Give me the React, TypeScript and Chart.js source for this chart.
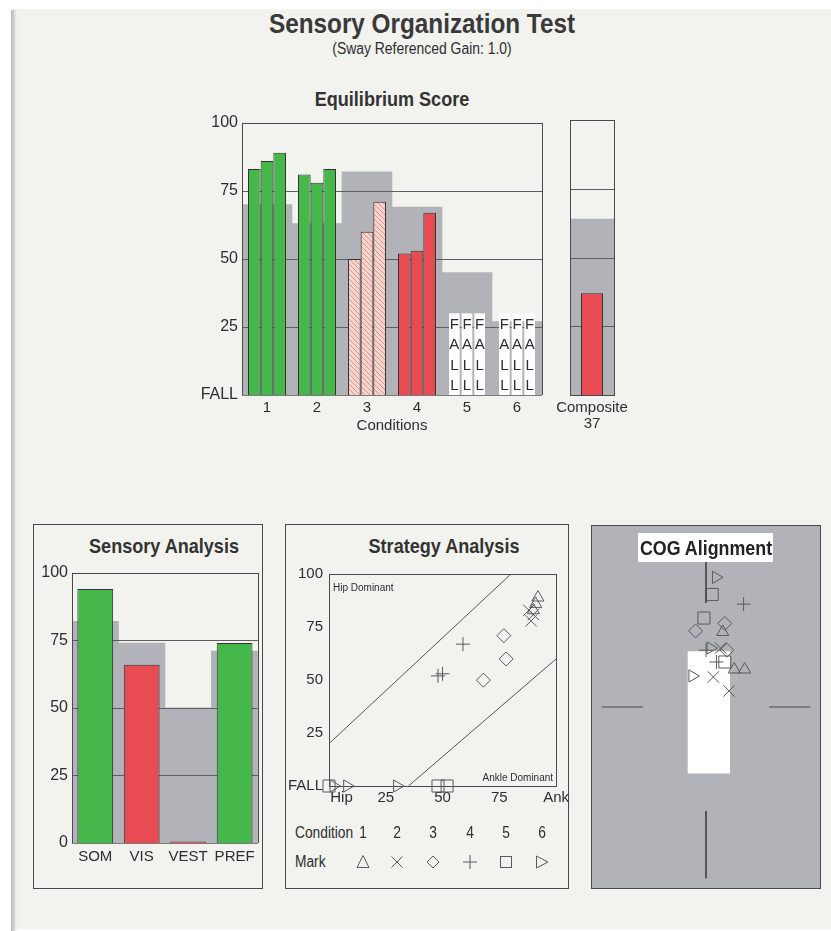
import React, { useEffect, useRef } from 'react';
import { Chart, registerables } from 'chart.js';

Chart.register(...registerables);

// ---------- data ----------
const FALL = null;
const conditions = ['1', '2', '3', '4', '5', '6'];
const trial1 = [83, 81, 50, 52, FALL, FALL];
const trial2 = [86, 78, 60, 53, FALL, FALL];
const trial3 = [89, 83, 71, 67, FALL, FALL];
const equilibriumNorms = [70, 63, 82, 69, 45, 27];
const fallLetters = ['F', 'A', 'L', 'L'];
const fallBoxTop = 30;
const compositeScore = 37;
const compositeNorm = 64;
const scoreGrid = [25, 50, 75];

const sensoryCategories = ['SOM', 'VIS', 'VEST', 'PREF'];
const sensoryScores = [94, 66, 0.6, 74];
const sensoryNorms = [82, 74, 50, 71];

// strategy score (x) for trial 1..3 of each condition; y is the equilibrium score
const strategyCond1 = [90, 91, 92];
const strategyCond2 = [90, 89, 88];
const strategyCond3 = [68, 78, 77];
const strategyCond4 = [48, 50, 59];
const strategyCond5 = [0, 48, 52];
const strategyCond6 = [2, 8, 30];
const hipLineX = [0, 80];
const hipLineY = [20, 100];
const ankleLineX = [35, 100];
const ankleLineY = [0, 60];

// COG alignment (x, y) for trial 1..3 of each condition
const cogCond1X = [1.6, 2.7, 3.7];
const cogCond1Y = [7.0, 3.5, 3.5];
const cogCond2X = [1.4, 0.7, 2.2];
const cogCond2Y = [5.5, 2.8, 1.5];
const cogCond3X = [-1.0, 1.8, 2.0];
const cogCond3Y = [7.1, 7.8, 5.3];
const cogCond4X = [3.6, 0, 1.0];
const cogCond4Y = [9.6, 5.3, 4.2];
const cogCond5X = [0.6, -0.2, 1.8];
const cogCond5Y = [10.5, 8.3, 4.2];
const cogCond6X = [0.96, 0.44, -1.3];
const cogCond6Y = [12.1, 5.5, 2.9];
const cogLimitsX = [-1.75, 2.3];
const cogLimitsY = [-6.2, 5.2];
const cogCrossTop = [16, 9.7];
const cogCrossBottom = [-9.7, -16];
const cogCrossLeft = [-10, -6.05];
const cogCrossRight = [6.05, 10];

// ---------- styles ----------
const FONT = '"Liberation Sans", Arial, sans-serif';
const TEXT = '#2e2e2e';
const GREEN = '#45b74b';
const RED = '#e94b52';
const GRAY = '#b2b2b9';
const PAPER = '#f2f2ee';
const LINE = '#4a4a4a';
const MARK = '#5a5a5a';
const TICK = 15;

const markStyles = [
  { pointStyle: 'triangle', rotation: 0, radius: 7 },
  { pointStyle: 'crossRot', rotation: 0, radius: 8 },
  { pointStyle: 'rectRot', rotation: 0, radius: 7 },
  { pointStyle: 'cross', rotation: 0, radius: 7 },
  { pointStyle: 'rect', rotation: 0, radius: 8.5 },
  { pointStyle: 'triangle', rotation: 90, radius: 7 },
];

function makeHatch() {
  const c = document.createElement('canvas');
  c.width = 5;
  c.height = 5;
  const g = c.getContext('2d')!;
  g.fillStyle = '#f8d5cc';
  g.fillRect(0, 0, 5, 5);
  g.strokeStyle = '#e4928a';
  g.lineWidth = 1;
  g.beginPath();
  g.moveTo(-1, -1);
  g.lineTo(6, 6);
  g.moveTo(-1, 4);
  g.lineTo(1, 6);
  g.moveTo(4, -1);
  g.lineTo(6, 1);
  g.stroke();
  return g.createPattern(c, 'repeat');
}

function hLine(ctx: CanvasRenderingContext2D, x1: number, x2: number, y: number) {
  const yy = Math.round(y) + 0.5;
  ctx.beginPath();
  ctx.moveTo(x1, yy);
  ctx.lineTo(x2, yy);
  ctx.stroke();
}
function vLine(ctx: CanvasRenderingContext2D, x: number, y1: number, y2: number) {
  const xx = Math.round(x) + 0.5;
  ctx.beginPath();
  ctx.moveTo(xx, y1);
  ctx.lineTo(xx, y2);
  ctx.stroke();
}

function barPanelPlugin(outline: 'open' | 'closed', withFall: boolean) {
  return {
    id: 'panelFrame',
    beforeDatasetsDraw(chart: any) {
      if (outline !== 'open') return;
      const { ctx, chartArea: a } = chart;
      ctx.save();
      ctx.strokeStyle = LINE;
      ctx.lineWidth = 1;
      hLine(ctx, a.left, a.right + 1, a.top);
      vLine(ctx, a.right, a.top, a.bottom);
      ctx.restore();
    },
    afterDatasetDraw(chart: any, args: any) {
      if (args.index !== 0) return;
      const { ctx, chartArea: a } = chart;
      const y = chart.scales.y;
      ctx.save();
      ctx.strokeStyle = '#5e5e5e';
      ctx.lineWidth = 1;
      scoreGrid.forEach((v) => hLine(ctx, a.left, a.right, y.getPixelForValue(v)));
      ctx.restore();
    },
    afterDatasetsDraw(chart: any) {
      const { ctx, chartArea: a } = chart;
      const y = chart.scales.y;
      ctx.save();
      if (withFall) {
        const top = y.getPixelForValue(fallBoxTop);
        const bottom = y.getPixelForValue(0);
        const slot = (bottom - top) / fallLetters.length;
        chart.data.datasets.forEach((ds: any, di: number) => {
          if (di === 0) return;
          const meta = chart.getDatasetMeta(di);
          meta.data.forEach((el: any, i: number) => {
            if (ds.data[i] !== null) return;
            const w = el.width - 2;
            ctx.fillStyle = '#ffffff';
            ctx.fillRect(el.x - w / 2, top, w, bottom - top);
            ctx.fillStyle = TEXT;
            ctx.font = `15px ${FONT}`;
            ctx.textAlign = 'center';
            ctx.textBaseline = 'middle';
            fallLetters.forEach((l, k) => ctx.fillText(l, el.x, top + slot * (k + 0.5) + 1));
          });
        });
      }
      ctx.strokeStyle = LINE;
      ctx.lineWidth = 1;
      if (outline === 'closed') {
        ctx.strokeRect(Math.round(a.left) + 0.5, Math.round(a.top) + 0.5, Math.round(a.right - a.left), Math.round(a.bottom - a.top));
      } else {
        vLine(ctx, a.left, a.top, a.bottom + 1);
        ctx.strokeStyle = '#7a7a7a';
        hLine(ctx, a.left, a.right, a.bottom);
      }
      ctx.restore();
    },
  };
}

function tickFont(size: number) {
  return { family: FONT, size, lineHeight: 1.1 };
}

function buildEquilibrium() {
  const hatch = makeHatch();
  const condColors = [GREEN, GREEN, hatch, RED, '#ffffff', '#ffffff'];
  const trials = [trial1, trial2, trial3];
  return {
    type: 'bar',
    data: {
      labels: conditions,
      datasets: [
        { label: 'Norm', data: equilibriumNorms, backgroundColor: GRAY, borderWidth: 0, grouped: false, barPercentage: 1, categoryPercentage: 1, order: 10 },
        ...trials.map((t, i) => ({
          label: `Trial ${i + 1}`,
          data: t,
          backgroundColor: condColors,
          borderColor: '#333333',
          borderWidth: 1,
          categoryPercentage: 0.76,
          barPercentage: 1,
          order: 1,
        })),
      ],
    },
    options: {
      animation: false,
      responsive: false,
      events: [],
      layout: { padding: { top: 10, right: 8, left: 0, bottom: 0 } },
      plugins: { legend: { display: false }, tooltip: { enabled: false } },
      scales: {
        x: {
          grid: { display: false, drawTicks: false },
          border: { display: false },
          ticks: { font: tickFont(TICK), color: TEXT, padding: 5, maxRotation: 0, minRotation: 0, autoSkip: false },
          title: { display: true, text: 'Conditions', font: tickFont(TICK), color: TEXT, padding: { top: 0, bottom: 6 } },
          afterFit: (s: any) => { s.height = 45; },
        },
        y: {
          min: 0,
          max: 100,
          grid: { display: false, drawTicks: false },
          border: { display: false },
          ticks: { stepSize: 25, font: tickFont(TICK + 1), color: TEXT, padding: 4, callback: (v: any) => (v === 0 ? 'FALL' : v) },
          afterFit: (s: any) => { s.width = 52; },
        },
      },
    },
    plugins: [barPanelPlugin('open', true)],
  };
}

function buildComposite() {
  return {
    type: 'bar',
    data: {
      labels: [['Composite', String(compositeScore)]],
      datasets: [
        { label: 'Norm', data: [compositeNorm], backgroundColor: GRAY, borderWidth: 0, grouped: false, barPercentage: 1, categoryPercentage: 1, order: 10 },
        { label: 'Composite', data: [compositeScore], backgroundColor: RED, borderColor: '#333333', borderWidth: 1, categoryPercentage: 0.5, barPercentage: 1, order: 1 },
      ],
    },
    options: {
      animation: false,
      responsive: false,
      events: [],
      layout: { padding: { top: 10, right: 40, left: 40, bottom: 0 } },
      plugins: { legend: { display: false }, tooltip: { enabled: false } },
      scales: {
        x: {
          grid: { display: false, drawTicks: false },
          border: { display: false },
          ticks: { font: { family: FONT, size: TICK, lineHeight: 1.05 }, color: TEXT, padding: 5, maxRotation: 0, minRotation: 0 },
          afterFit: (s: any) => { s.height = 45; },
        },
        y: { display: false, min: 0, max: 100 },
      },
    },
    plugins: [barPanelPlugin('closed', false)],
  };
}

function buildSensory() {
  return {
    type: 'bar',
    data: {
      labels: sensoryCategories,
      datasets: [
        { label: 'Norm', data: sensoryNorms, backgroundColor: GRAY, borderWidth: 0, grouped: false, barPercentage: 1, categoryPercentage: 1, order: 10 },
        { label: 'Score', data: sensoryScores, backgroundColor: [GREEN, RED, RED, GREEN], borderColor: ['#333333', '#333333', '#8a2a30', '#333333'], borderWidth: 1, categoryPercentage: 0.77, barPercentage: 1, order: 1 },
      ],
    },
    options: {
      animation: false,
      responsive: false,
      events: [],
      layout: { padding: { top: 8, right: 3, left: 0, bottom: 0 } },
      plugins: { legend: { display: false }, tooltip: { enabled: false } },
      scales: {
        x: {
          grid: { display: false, drawTicks: false },
          border: { display: false },
          ticks: { font: tickFont(TICK), color: TEXT, padding: 6, maxRotation: 0, minRotation: 0, autoSkip: false },
          afterFit: (s: any) => { s.height = 39; },
        },
        y: {
          min: 0,
          max: 100,
          grid: { display: false, drawTicks: false },
          border: { display: false },
          ticks: { stepSize: 25, font: tickFont(TICK + 1), color: TEXT, padding: 4 },
          afterFit: (s: any) => { s.width = 37; },
        },
      },
    },
    plugins: [barPanelPlugin('open', false)],
  };
}

function buildStrategy() {
  const trials = [trial1, trial2, trial3];
  const condX = [strategyCond1, strategyCond2, strategyCond3, strategyCond4, strategyCond5, strategyCond6];
  const markSets = condX.map((xs, c) => ({
    label: `Condition ${c + 1}`,
    data: xs.map((x, t) => ({ x, y: trials[t][c] ?? 0 })),
    pointStyle: markStyles[c].pointStyle,
    pointRotation: markStyles[c].rotation,
    pointRadius: markStyles[c].radius,
    pointBorderColor: MARK,
    pointBackgroundColor: 'rgba(0,0,0,0)',
    pointBorderWidth: 1,
    clip: false,
  }));
  const lineSet = (xs: number[], ys: number[], label: string) => ({
    label,
    type: 'line',
    data: xs.map((x, i) => ({ x, y: ys[i] })),
    borderColor: '#555555',
    borderWidth: 1,
    pointRadius: 0,
    showLine: true,
    fill: false,
  });
  return {
    type: 'scatter',
    data: {
      datasets: [lineSet(hipLineX, hipLineY, 'Hip boundary'), lineSet(ankleLineX, ankleLineY, 'Ankle boundary'), ...markSets],
    },
    options: {
      animation: false,
      responsive: false,
      events: [],
      layout: { padding: { top: 9, right: 14, left: 0, bottom: 0 } },
      plugins: { legend: { display: false }, tooltip: { enabled: false } },
      scales: {
        x: {
          type: 'linear',
          min: 0,
          max: 100,
          grid: { display: false, drawTicks: false },
          border: { display: false },
          ticks: {
            stepSize: 25,
            autoSkip: false,
            maxRotation: 0,
            font: tickFont(TICK),
            color: TEXT,
            padding: 4,
            callback: (v: any) => (v === 0 ? '      Hip' : v === 100 ? 'Ank' : v),
          },
          afterFit: (s: any) => { s.height = 29; },
        },
        y: {
          min: 0,
          max: 100,
          grid: { display: false, drawTicks: false },
          border: { display: false },
          ticks: { stepSize: 25, font: tickFont(TICK), color: TEXT, padding: 6, callback: (v: any) => (v === 0 ? 'FALL' : v) },
          afterFit: (s: any) => { s.width = 42; },
        },
      },
    },
    plugins: [
      {
        id: 'strategyFrame',
        beforeDatasetsDraw(chart: any) {
          const { ctx, chartArea: a } = chart;
          ctx.save();
          ctx.strokeStyle = LINE;
          ctx.lineWidth = 1;
          ctx.strokeRect(Math.round(a.left) + 0.5, Math.round(a.top) + 0.5, Math.round(a.right - a.left), Math.round(a.bottom - a.top));
          ctx.fillStyle = TEXT;
          ctx.font = `10px ${FONT}`;
          ctx.textBaseline = 'middle';
          ctx.textAlign = 'left';
          ctx.fillText('Hip Dominant', a.left + 4, a.top + 14);
          ctx.textAlign = 'right';
          ctx.fillText('Ankle Dominant', a.right - 3, a.bottom - 8);
          ctx.restore();
        },
      },
    ],
  };
}

function buildCog() {
  const xs = [cogCond1X, cogCond2X, cogCond3X, cogCond4X, cogCond5X, cogCond6X];
  const ys = [cogCond1Y, cogCond2Y, cogCond3Y, cogCond4Y, cogCond5Y, cogCond6Y];
  const markSets = xs.map((xv, c) => ({
    label: `Condition ${c + 1}`,
    data: xv.map((x, t) => ({ x, y: ys[c][t] })),
    pointStyle: markStyles[c].pointStyle,
    pointRotation: markStyles[c].rotation,
    pointRadius: markStyles[c].radius,
    pointBorderColor: MARK,
    pointBackgroundColor: 'rgba(0,0,0,0)',
    pointBorderWidth: 1,
  }));
  const seg = (px: number[], py: number[], label: string) => ({
    label,
    type: 'line',
    data: px.map((x, i) => ({ x, y: py[i] })),
    borderColor: '#4a4a4a',
    borderWidth: 1,
    pointRadius: 0,
    showLine: true,
    fill: false,
  });
  return {
    type: 'scatter',
    data: {
      datasets: [
        seg([0, 0], cogCrossTop, 'axis top'),
        seg([0, 0], cogCrossBottom, 'axis bottom'),
        seg(cogCrossLeft, [0, 0], 'axis left'),
        seg(cogCrossRight, [0, 0], 'axis right'),
        ...markSets,
      ],
    },
    options: {
      animation: false,
      responsive: false,
      events: [],
      layout: { padding: 0 },
      plugins: { legend: { display: false }, tooltip: { enabled: false } },
      scales: {
        x: { type: 'linear', display: false, min: -10, max: 10 },
        y: { type: 'linear', display: false, min: -16, max: 16 },
      },
    },
    plugins: [
      {
        id: 'cogLimits',
        beforeDatasetsDraw(chart: any) {
          const { ctx } = chart;
          const x = chart.scales.x;
          const y = chart.scales.y;
          const l = x.getPixelForValue(cogLimitsX[0]);
          const r = x.getPixelForValue(cogLimitsX[1]);
          const t = y.getPixelForValue(cogLimitsY[1]);
          const b = y.getPixelForValue(cogLimitsY[0]);
          ctx.save();
          ctx.fillStyle = '#ffffff';
          ctx.fillRect(l, t, r - l, b - t);
          ctx.restore();
        },
      },
    ],
  };
}

function ChartCanvas({ left, top, width, height, build }: { left: number; top: number; width: number; height: number; build: () => any }) {
  const ref = useRef<HTMLCanvasElement>(null);
  useEffect(() => {
    const chart = new Chart(ref.current as HTMLCanvasElement, build());
    return () => chart.destroy();
  }, []);
  return <canvas ref={ref} width={width} height={height} style={{ position: 'absolute', left, top, width, height }} />;
}

function Text({ x, y, size, bold, children, anchor = 'middle', color = TEXT, sx = 0.86 }: any) {
  const style: any = {
    position: 'absolute',
    top: y - size / 2,
    fontSize: size,
    lineHeight: `${size}px`,
    fontWeight: bold ? 'bold' : 'normal',
    whiteSpace: 'nowrap',
    color,
    transform: `scaleX(${sx})`,
  };
  if (anchor === 'middle') {
    style.left = x - 300;
    style.width = 600;
    style.textAlign = 'center';
    style.transformOrigin = '50% 50%';
  } else {
    style.left = x;
    style.transformOrigin = '0 50%';
  }
  return <div style={style}>{children}</div>;
}

function MarkIcon({ index, cx, cy }: { index: number; cx: number; cy: number }) {
  const s = 16;
  const h = s / 2;
  let shape: any = null;
  const common = { fill: 'none', stroke: MARK, strokeWidth: 1 };
  switch (index) {
    case 0:
      shape = <polygon points={`${h},1.5 ${s - 2},${s - 2.5} 2,${s - 2.5}`} {...common} />;
      break;
    case 1:
      shape = <path d={`M2.5,2.5 L${s - 2.5},${s - 2.5} M${s - 2.5},2.5 L2.5,${s - 2.5}`} {...common} />;
      break;
    case 2:
      shape = <polygon points={`${h},2 ${s - 2},${h} ${h},${s - 2} 2,${h}`} {...common} />;
      break;
    case 3:
      shape = <path d={`M${h},1 L${h},${s - 1} M1,${h} L${s - 1},${h}`} {...common} />;
      break;
    case 4:
      shape = <rect x={2.5} y={2.5} width={s - 5} height={s - 5} {...common} />;
      break;
    default:
      shape = <polygon points={`2.5,2 ${s - 2},${h} 2.5,${s - 2}`} {...common} />;
  }
  return (
    <svg width={s} height={s} style={{ position: 'absolute', left: cx - h, top: cy - h }}>
      {shape}
    </svg>
  );
}

const legendX = [363, 397, 433, 470, 506, 542];

export default function App() {
  const panel = (left: number, top: number, width: number, height: number, bg = 'transparent') => (
    <div
      style={{
        position: 'absolute',
        left,
        top,
        width,
        height,
        boxSizing: 'border-box',
        border: `1px solid ${LINE}`,
        background: bg,
      }}
    />
  );
  return (
    <div
      style={{
        position: 'absolute',
        left: 0,
        top: 0,
        width: 831,
        height: 931,
        overflow: 'hidden',
        background: '#ffffff',
        fontFamily: FONT,
        color: TEXT,
      }}
    >
      <div style={{ position: 'absolute', left: 12, top: 9, width: 819, height: 920, background: PAPER }} />
      <div style={{ position: 'absolute', left: 11, top: 10, width: 6, height: 921, background: 'linear-gradient(to right, #b5b5b5, rgba(242,242,238,0))' }} />

      <Text x={422} y={24} size={27} bold color="#3a3a3a" sx={0.9}>Sensory Organization Test</Text>
      <Text x={422} y={49} size={16} sx={0.87}>(Sway Referenced Gain: 1.0)</Text>
      <Text x={392} y={98} size={21} bold color="#333">Equilibrium Score</Text>

      <ChartCanvas left={190} top={110} width={360} height={330} build={buildEquilibrium} />
      <ChartCanvas left={530} top={110} width={124} height={330} build={buildComposite} />

      {panel(33, 524, 230, 365)}
      {panel(285, 524, 284, 365)}
      {panel(591, 525, 230, 364, GRAY)}

      <Text x={164} y={545} size={21} bold color="#333">Sensory Analysis</Text>
      <ChartCanvas left={35} top={560} width={226} height={322} build={buildSensory} />

      <Text x={444} y={545} size={21} bold color="#333">Strategy Analysis</Text>
      <ChartCanvas left={287} top={560} width={286} height={255} build={buildStrategy} />
      <Text x={295} y={833} size={16} anchor="start">Condition</Text>
      {conditions.map((c, i) => (
        <Text key={c} x={legendX[i]} y={833} size={16}>{c}</Text>
      ))}
      <Text x={295} y={862} size={16} anchor="start">Mark</Text>
      {legendX.map((x, i) => (
        <MarkIcon key={i} index={i} cx={x} cy={862} />
      ))}

      <ChartCanvas left={592} top={526} width={228} height={362} build={buildCog} />
      <div
        style={{
          position: 'absolute',
          left: 638,
          top: 533,
          width: 135,
          height: 29,
          background: '#ffffff',
        }}
      />
      <Text x={706} y={547} size={21} bold color="#222" sx={0.85}>COG Alignment</Text>
    </div>
  );
}
